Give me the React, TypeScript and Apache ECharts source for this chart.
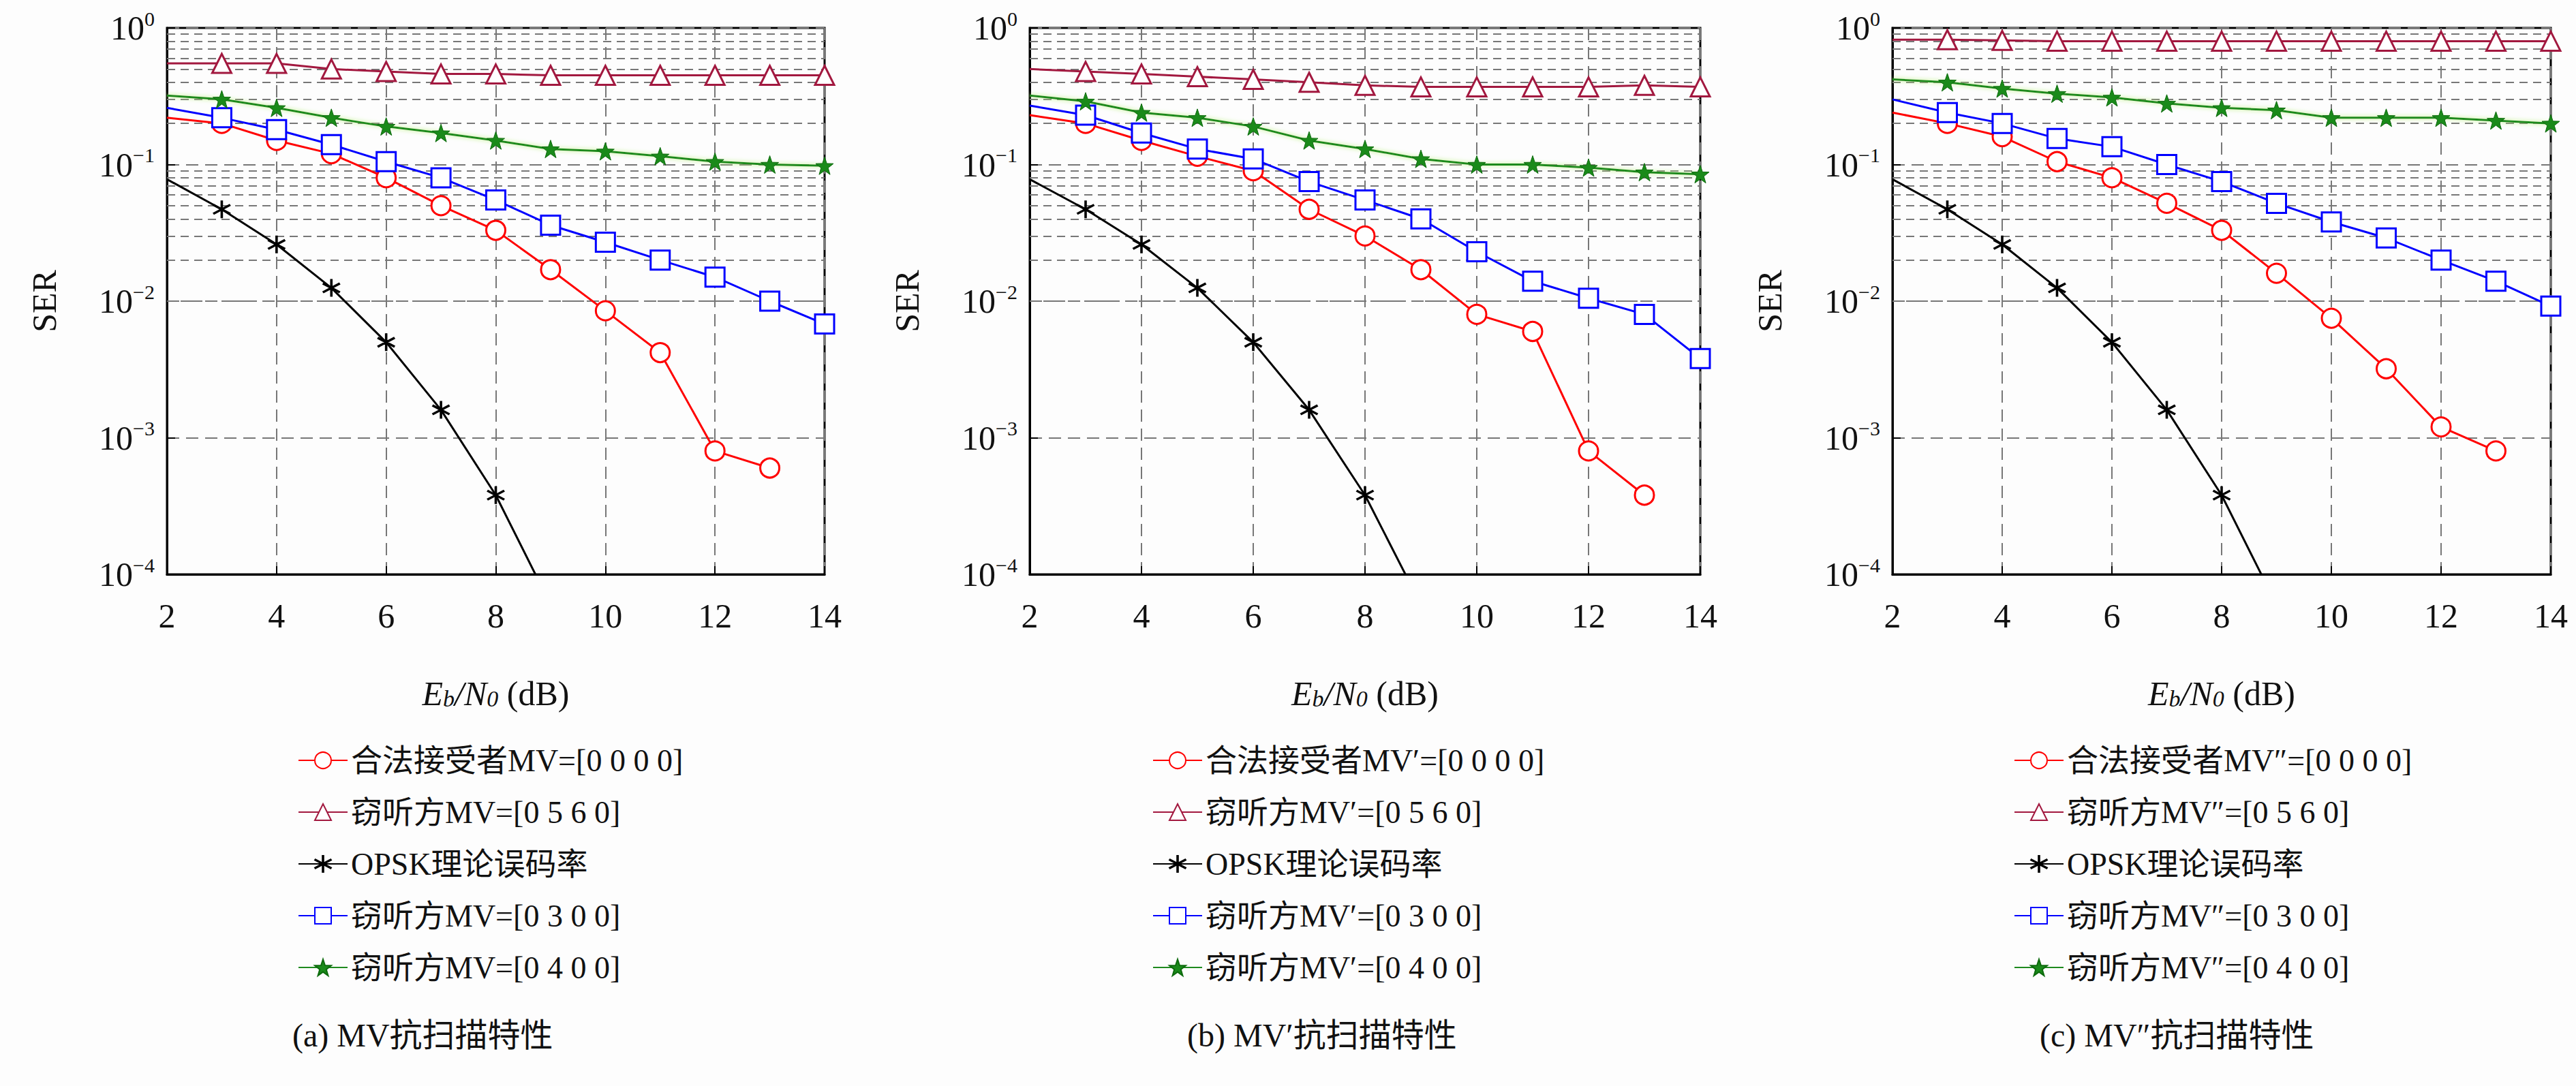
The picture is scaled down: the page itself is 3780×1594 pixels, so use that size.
import React, { useEffect, useRef } from "react";
import * as echarts from "echarts";

const xs = [2, 3, 4, 5, 6, 7, 8, 9, 10, 11, 12, 13, 14];
const panelNames = ["MV", "MV′", "MV″"];
const captions = ["(a) MV抗扫描特性", "(b) MV′抗扫描特性", "(c) MV″抗扫描特性"];

const legitA = [0.22, 0.2, 0.15, 0.12, 0.08, 0.05, 0.033, 0.017, 0.0085, 0.0042, 0.0008, 0.0006];
const legitB = [0.23, 0.2, 0.15, 0.115, 0.09, 0.047, 0.03, 0.017, 0.008, 0.006, 0.0008, 0.00038];
const legitC = [0.24, 0.2, 0.16, 0.105, 0.08, 0.052, 0.033, 0.016, 0.0075, 0.0032, 0.0012, 0.0008];

const tri560A = [0.55, 0.55, 0.55, 0.5, 0.48, 0.46, 0.46, 0.45, 0.45, 0.45, 0.45, 0.45, 0.45];
const tri560B = [0.5, 0.48, 0.46, 0.44, 0.42, 0.4, 0.38, 0.37, 0.37, 0.37, 0.37, 0.38, 0.37];
const tri560C = [0.82, 0.82, 0.81, 0.8, 0.8, 0.8, 0.8, 0.8, 0.8, 0.8, 0.8, 0.8, 0.8];

const theoryX = [2, 3, 4, 5, 6, 7, 8, 9];
const theory = [0.078, 0.047, 0.026, 0.0125, 0.005, 0.0016, 0.00038, 0.00006];

const sq300A = [0.26, 0.22, 0.18, 0.14, 0.105, 0.08, 0.055, 0.036, 0.027, 0.02, 0.015, 0.01, 0.0068];
const sq300B = [0.27, 0.23, 0.17, 0.13, 0.11, 0.075, 0.055, 0.04, 0.023, 0.014, 0.0105, 0.008, 0.0038];
const sq300C = [0.3, 0.24, 0.2, 0.155, 0.135, 0.1, 0.075, 0.052, 0.038, 0.029, 0.02, 0.014, 0.0092];

const st400A = [0.32, 0.3, 0.26, 0.22, 0.19, 0.17, 0.15, 0.13, 0.125, 0.115, 0.105, 0.1, 0.098];
const st400B = [0.32, 0.29, 0.24, 0.22, 0.19, 0.15, 0.13, 0.11, 0.1, 0.1, 0.095, 0.088, 0.085];
const st400C = [0.42, 0.4, 0.36, 0.33, 0.31, 0.28, 0.26, 0.25, 0.22, 0.22, 0.22, 0.21, 0.2];

const FONT = "'Liberation Serif', 'Noto Sans CJK SC', serif";
const STAR5 = "path://M0,-10L2.35,-3.24L9.51,-3.09L3.8,1.24L5.88,8.09L0,4L-5.88,8.09L-3.8,1.24L-9.51,-3.09L-2.35,-3.24Z";
const AST = "path://M-0.6,-10L0.6,-10L0.6,10L-0.6,10Z M-9,-4.6L-8.4,-5.6L9,4.6L8.4,5.6Z M-9,4.6L-8.4,5.6L9,-4.6L8.4,-5.6Z";

const grids = [
  { left: 245, width: 965 },
  { left: 1511, width: 984 },
  { left: 2777, width: 966 },
];
const legendLeft = [432, 1686, 2950];
const captionLeft = [429, 1742, 2993];

function pts(x: number[], y: number[]) {
  return y.map((v, i) => (x[i] === 2 ? { value: [x[i], v], symbol: "none" } : [x[i], v]));
}

const minorVals: number[] = [];
for (let d = -4; d <= -1; d++) for (let k = 2; k <= 9; k++) minorVals.push(k * Math.pow(10, d));

export default function App() {
  const ref = useRef<HTMLDivElement>(null);
  useEffect(() => {
    document.body.style.margin = "0";
    const chart = echarts.init(ref.current!, undefined, { renderer: "svg" });
    const sets = [
      [legitA, tri560A, sq300A, st400A],
      [legitB, tri560B, sq300B, st400B],
      [legitC, tri560C, sq300C, st400C],
    ];
    const series: any[] = [];
    const legends: any[] = [];
    panelNames.forEach((mv, p) => {
      const [lg, tr, sq, st] = sets[p];
      const n1 = `合法接受者${mv}=[0 0 0 0]`;
      const n2 = `窃听方${mv}=[0 5 6 0]`;
      const n3 = "OPSK理论误码率";
      const n4 = `窃听方${mv}=[0 3 0 0]`;
      const n5 = `窃听方${mv}=[0 4 0 0]`;
      const base = { type: "line", xAxisIndex: p, yAxisIndex: p, symbolSize: 28, z: 5 };
      series.push({
        ...base, name: n1, data: pts(xs, lg), symbol: "circle",
        lineStyle: { color: "#ff0000", width: 3 },
        itemStyle: { color: "#ffffff", borderColor: "#ff0000", borderWidth: 3 },
        markLine: {
          silent: true, symbol: "none", label: { show: false },
          lineStyle: { color: "#777", type: [12, 8], width: 2 },
          data: minorVals.map((v) => ({ yAxis: v })),
        },
      });
      series.push({
        ...base, name: n2, data: pts(xs, tr), symbol: "triangle",
        lineStyle: { color: "#a2183f", width: 3 },
        itemStyle: { color: "#ffffff", borderColor: "#a2183f", borderWidth: 3 },
      });
      series.push({
        ...base, name: n3, data: pts(theoryX, theory), symbol: AST, symbolSize: 24,
        lineStyle: { color: "#000", width: 3 },
        itemStyle: { color: "#000", borderColor: "#000", borderWidth: 2 },
      });
      series.push({
        ...base, name: n4, data: pts(xs, sq), symbol: "rect",
        lineStyle: { color: "#0000ff", width: 3 },
        itemStyle: { color: "#ffffff", borderColor: "#0000ff", borderWidth: 3 },
      });
      series.push({
        ...base, name: n5, data: pts(xs, st), symbol: STAR5, symbolSize: 26,
        lineStyle: { color: "#1f8a1f", width: 3, shadowColor: "#b5f07a", shadowBlur: 6 },
        itemStyle: { color: "#1a8a1a", borderColor: "#0d6b0d", borderWidth: 1 },
      });
      legends.push({
        data: [n1, n2, n3, n4, n5],
        orient: "vertical", left: legendLeft[p], top: 1088,
        itemWidth: 72, itemHeight: 30, itemGap: 30,
        textStyle: { fontFamily: FONT, fontSize: 46, color: "#111" },
        selectedMode: false,
      });
    });

    const option: any = {
      animation: false,
      backgroundColor: "#fdfdfd",
      grid: grids.map((g) => ({ left: g.left, width: g.width, top: 41, height: 802, show: true, borderColor: "#000", borderWidth: 3, backgroundColor: "transparent" })),
      xAxis: grids.map((_, i) => ({
        type: "value", gridIndex: i, min: 2, max: 14, interval: 2,
        axisLine: { show: true, lineStyle: { color: "#000", width: 3 } },
        axisTick: { inside: true, length: 12, lineStyle: { color: "#000", width: 2 } },
        axisLabel: { fontFamily: FONT, fontSize: 50, color: "#111", margin: 36 },
        splitLine: { show: true, lineStyle: { color: "#777", type: [18, 10], width: 2 } },
        name: "{i|E}{s|b}{i|/N}{s|0} (dB)",
        nameLocation: "middle", nameGap: 150,
        nameTextStyle: {
          fontFamily: FONT, fontSize: 50, color: "#111",
          rich: {
            i: { fontFamily: FONT, fontSize: 50, fontStyle: "italic", color: "#111" },
            s: { fontFamily: FONT, fontSize: 34, fontStyle: "italic", color: "#111", padding: [16, 0, 0, 0] },
          },
        },
      })),
      yAxis: grids.map((_, i) => ({
        type: "log", logBase: 10, gridIndex: i, min: 1e-4, max: 1,
        axisLine: { show: true, lineStyle: { color: "#000", width: 3 } },
        axisTick: { inside: true, length: 12, lineStyle: { color: "#000", width: 2 } },
        axisLabel: {
          margin: 18,
          formatter: (v: number) => {
            const e = Math.round(Math.log10(v));
            return `{b|10}{s|${e < 0 ? "−" + -e : e}}`;
          },
          rich: {
            b: { fontFamily: FONT, fontSize: 50, color: "#111" },
            s: { fontFamily: FONT, fontSize: 30, color: "#111", padding: [0, 0, 28, 0] },
          },
        },
        splitLine: { show: true, lineStyle: { color: "#777", type: [18, 10], width: 2 } },
        name: "SER", nameLocation: "middle", nameRotate: 90, nameGap: 155,
        nameTextStyle: { fontFamily: FONT, fontSize: 50, color: "#111" },
      })),
      legend: legends,
      series,
      graphic: captions.map((c, i) => ({
        type: "text", left: captionLeft[i], top: 1495,
        style: { text: c, font: `48px ${FONT}`, fill: "#111" },
      })),
    };
    chart.setOption(option);
    return () => chart.dispose();
  }, []);
  return <div ref={ref} style={{ width: 3780, height: 1594 }} />;
}
